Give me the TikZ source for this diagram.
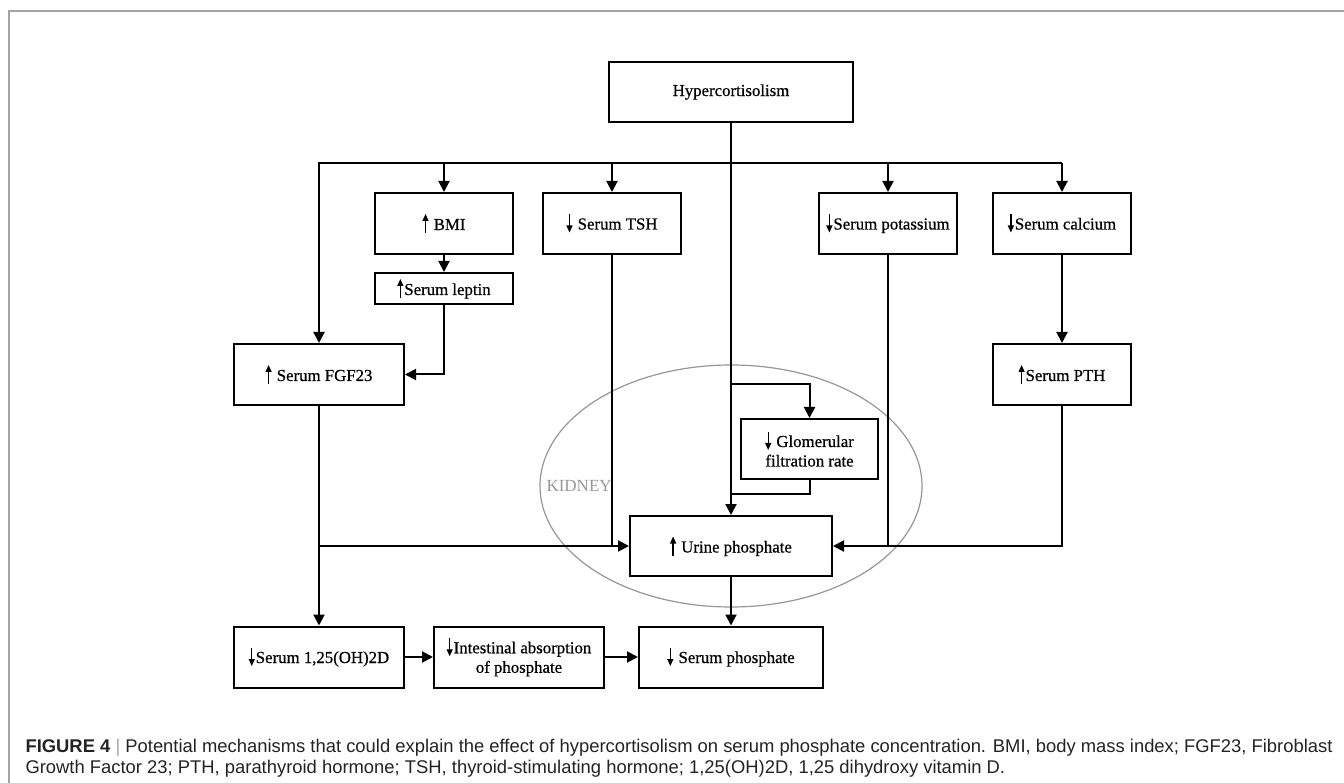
\documentclass[tikz,border=0pt]{standalone}
\usepackage{fontspec}
\setmainfont{Liberation Serif}
\newfontfamily\boxfont{Liberation Serif}[FakeBold=0.6]
\newfontfamily\capfont{Liberation Sans}
\usetikzlibrary{arrows.meta}
\usetikzlibrary{calc}

\definecolor{rim}{RGB}{165,165,165}
\definecolor{kidneygray}{RGB}{150,150,150}
\definecolor{captext}{RGB}{35,35,35}

% small rising / falling marks set before the labels
\newcommand{\upmark}{\tikz[baseline=0pt]\draw[line width=1.3pt,-{Triangle[length=7pt,width=6pt]}] (0pt,-3pt) -- (0pt,16pt);\hspace{1pt}}
\newcommand{\downmark}{\tikz[baseline=0pt]\draw[line width=1.3pt,-{Triangle[length=7pt,width=6pt]}] (0pt,15pt) -- (0pt,-3pt);\hspace{1pt}}

\begin{document}
\begin{tikzpicture}[x=1pt, y=-1pt,
    box/.style={draw, fill=white, line width=2pt, inner sep=0pt, align=center, font=\boxfont\fontsize{16.8}{19.5}\selectfont},
    wire/.style={line width=2pt},
    arr/.style={line width=2pt, -{Triangle[length=11pt, width=11pt]}}]
    \useasboundingbox (0,0) rectangle (1344,783);

    % Frame
    \draw[rim, line width=1.5pt] (9,783) -- (9,11) -- (1344,11);

    % Kidney region
    \draw[kidneygray, line width=1.2pt] (731,486) ellipse [x radius=191, y radius=121];
    \node[kidneygray, anchor=west, font=\fontsize{17}{19}\selectfont] (kidney) at (543,486) {KIDNEY};

    % Top row
    \node[box, minimum width=244pt, minimum height=60pt] (hyper) at (731,92) {Hypercortisolism};
    \node[box, minimum width=138pt, minimum height=61pt] (bmi) at (444,223.5) {\upmark\ BMI};
    \node[box, minimum width=138pt, minimum height=31pt] (leptin) at (444,288.5) {\upmark Serum leptin};
    \node[box, minimum width=138pt, minimum height=61pt] (tsh) at (612,223.5) {\downmark\ Serum TSH};
    \node[box, minimum width=138pt, minimum height=61pt] (potassium) at (888,223.5) {\downmark Serum potassium};
    \node[box, minimum width=138pt, minimum height=61pt] (calcium) at (1062,223.5) {\downmark Serum calcium};

    % Middle row
    \node[box, minimum width=170pt, minimum height=61pt] (fgf) at (319,374.5) {\upmark\ Serum FGF23};
    \node[box, minimum width=138pt, minimum height=61pt] (pth) at (1062,374.5) {\upmark Serum PTH};
    \node[box, minimum width=137pt, minimum height=60pt] (gfr) at (809.5,449) {\downmark\ Glomerular\\filtration rate};
    \node[box, minimum width=202pt, minimum height=60pt] (urine) at (731,546) {\upmark\ Urine phosphate};

    % Bottom row
    \node[box, minimum width=170pt, minimum height=61pt] (dvit) at (319,657) {\downmark Serum 1,25(OH)2D};
    \node[box, minimum width=170pt, minimum height=61pt] (intest) at (519,657) {\downmark Intestinal absorption\\of phosphate};
    \node[box, minimum width=184pt, minimum height=61pt] (sphos) at (731,657) {\downmark\ Serum phosphate};

    % Bus from hypercortisolism
    \coordinate (bus) at (0,163);
    \coordinate (split) at (731,384);
    \coordinate (merge) at (731,494);
    \draw[arr] (hyper.south) -- (urine.north);
    \draw[arr] (calcium.north |- bus) -| (fgf.north);
    \draw[arr] (bmi.north |- bus) -- (bmi.north);
    \draw[arr] (tsh.north |- bus) -- (tsh.north);
    \draw[arr] (potassium.north |- bus) -- (potassium.north);
    \draw[arr] (calcium.north |- bus) -- (calcium.north);

    % Branches
    \draw[arr] (bmi) -- (leptin);
    \draw[arr] (leptin.south) |- (fgf.east);
    \draw[arr] (calcium) -- (pth);
    \draw[arr] (split) -| (gfr.north);
    \draw[wire] (gfr.south) |- (merge);

    % Into urine phosphate
    \draw[arr] (fgf.south) |- (urine.west);
    \draw[wire] (tsh.south) -- (tsh.south |- urine.west);
    \draw[wire] (potassium.south) -- (potassium.south |- urine.east);
    \draw[arr] (pth.south) |- (urine.east);

    % To serum phosphate
    \draw[arr] (fgf.south) -- (dvit.north);
    \draw[arr] (dvit) -- (intest);
    \draw[arr] (intest) -- (sphos);
    \draw[arr] (urine) -- (sphos);

    % Caption
    \node[anchor=base west, text=captext, font=\capfont\fontsize{18.4}{21}\selectfont] (capone) at (22,752) {\textbf{FIGURE 4} {\color{rim}|} Potential mechanisms that could explain the effect of hypercortisolism on serum phosphate concentration. BMI, body mass index; FGF23, Fibroblast};
    \node[anchor=base west, text=captext, font=\capfont\fontsize{18.4}{21}\selectfont] (captwo) at (22,773) {Growth Factor 23; PTH, parathyroid hormone; TSH, thyroid-stimulating hormone; 1,25(OH)2D, 1,25 dihydroxy vitamin D.};
\end{tikzpicture}
\end{document}
